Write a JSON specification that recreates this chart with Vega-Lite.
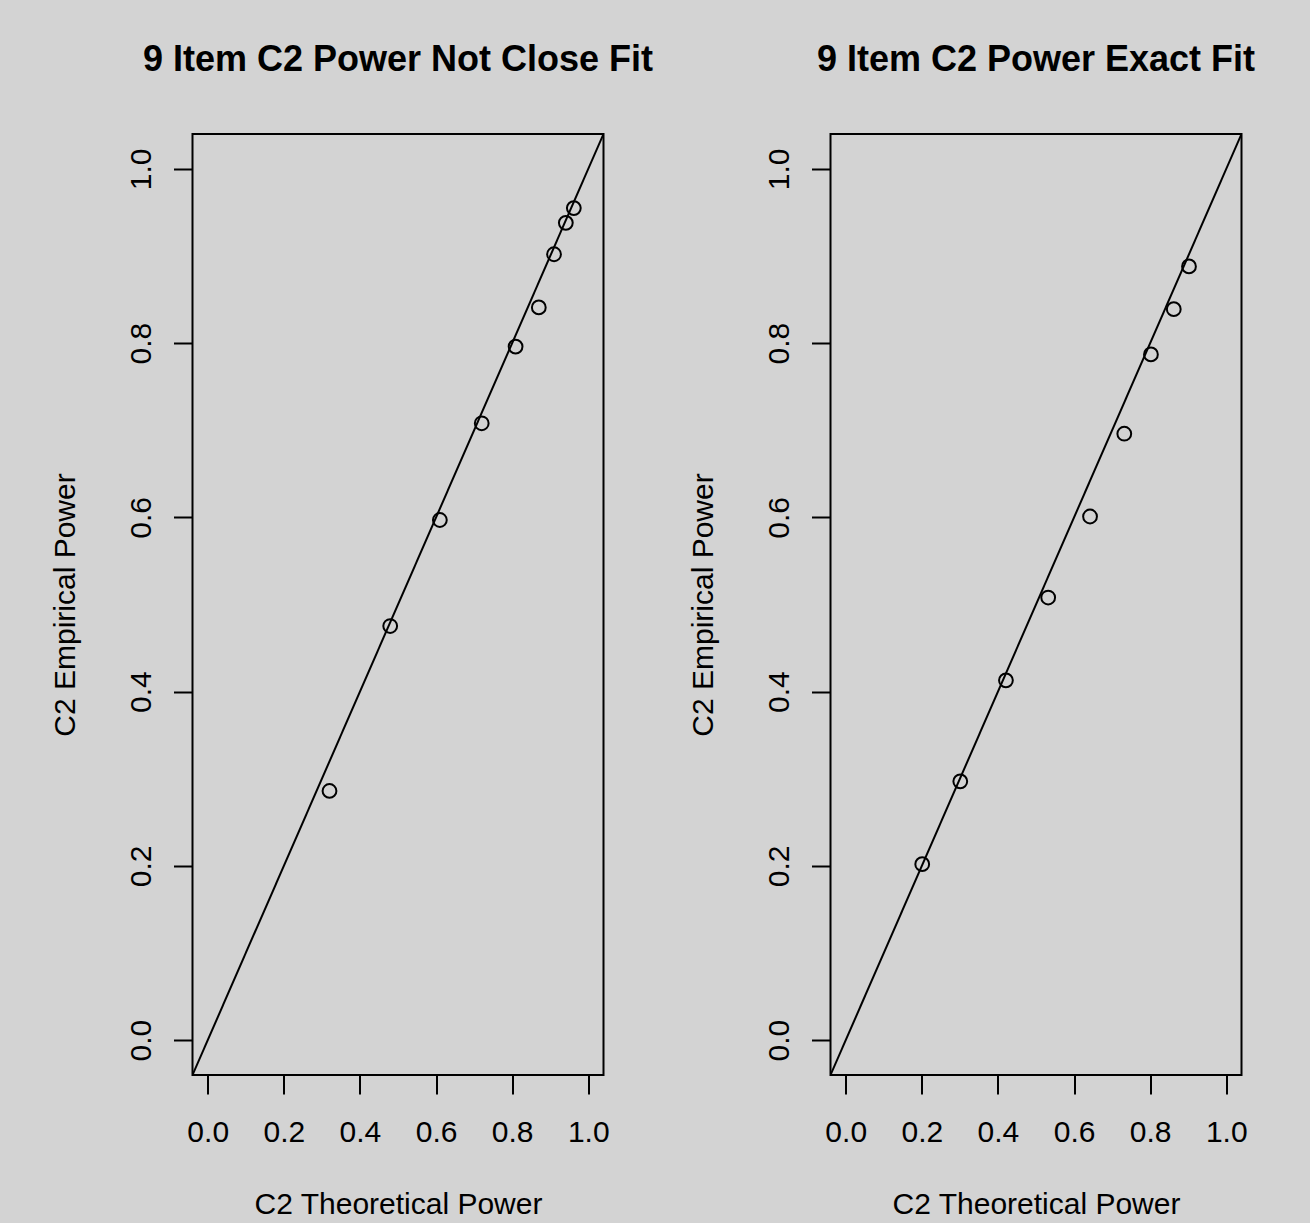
{
  "$schema": "https://vega.github.io/schema/vega-lite/v6.json",
  "background": "#D3D3D3",
  "padding": {"left": 48.5, "top": 41, "right": 60, "bottom": 10},
  "bounds": "flush",
  "spacing": 227,
  "datasets": {
    "pts": [
      {"panel": "ncf", "theoretical": 0.320, "empirical": 0.286},
      {"panel": "ncf", "theoretical": 0.4795, "empirical": 0.4753},
      {"panel": "ncf", "theoretical": 0.610, "empirical": 0.597},
      {"panel": "ncf", "theoretical": 0.720, "empirical": 0.708},
      {"panel": "ncf", "theoretical": 0.809, "empirical": 0.796},
      {"panel": "ncf", "theoretical": 0.870, "empirical": 0.841},
      {"panel": "ncf", "theoretical": 0.910, "empirical": 0.902},
      {"panel": "ncf", "theoretical": 0.941, "empirical": 0.938},
      {"panel": "ncf", "theoretical": 0.962, "empirical": 0.955},
      {"panel": "ef", "theoretical": 0.201, "empirical": 0.202},
      {"panel": "ef", "theoretical": 0.301, "empirical": 0.297},
      {"panel": "ef", "theoretical": 0.421, "empirical": 0.413},
      {"panel": "ef", "theoretical": 0.532, "empirical": 0.508},
      {"panel": "ef", "theoretical": 0.642, "empirical": 0.601},
      {"panel": "ef", "theoretical": 0.732, "empirical": 0.696},
      {"panel": "ef", "theoretical": 0.802, "empirical": 0.787},
      {"panel": "ef", "theoretical": 0.862, "empirical": 0.839},
      {"panel": "ef", "theoretical": 0.902, "empirical": 0.888}
    ],
    "diag": [
      {"theoretical": -0.04, "empirical": -0.04},
      {"theoretical": 1.04, "empirical": 1.04}
    ]
  },
  "config": {
    "font": "Liberation Sans",
    "view": {"stroke": "#000000", "strokeWidth": 2, "fill": null},
    "title": {"fontSize": 36, "fontWeight": "bold", "color": "#000000", "font": "Liberation Sans", "baseline": "alphabetic", "offset": 55, "anchor": "middle"},
    "axis": {
      "domain": false,
      "grid": false,
      "ticks": true,
      "tickSize": 19,
      "tickWidth": 2,
      "tickColor": "#000000",
      "labelFontSize": 30,
      "labelColor": "#000000",
      "labelFont": "Liberation Sans",
      "labelFlush": false,
      "labelOverlap": false,
      "labelBound": false,
      "titleFontSize": 30,
      "titleFontWeight": "normal",
      "titleColor": "#000000",
      "titleFont": "Liberation Sans",
      "titleBaseline": "alphabetic"
    },
    "axisX": {"labelBaseline": "alphabetic", "labelPadding": 47, "titleX": 205.5, "titleY": 138, "titleAngle": 0},
    "axisY": {"labelAngle": -90, "labelAlign": "center", "labelBaseline": "alphabetic", "labelPadding": 23.5, "titleAngle": -90, "titleX": -118.5, "titleY": 470.5}
  },
  "hconcat": [
    {
      "title": "9 Item C2 Power Not Close Fit",
      "width": 411,
      "height": 941,
      "layer": [
        {
          "data": {"name": "diag"},
          "mark": {"type": "line", "color": "#000000", "strokeWidth": 2, "clip": true},
          "encoding": {
            "x": {"field": "theoretical", "type": "quantitative", "scale": {"domain": [-0.04, 1.04], "nice": false, "zero": false}, "axis": {"values": [0, 0.2, 0.4, 0.6, 0.8, 1.0], "format": ".1f", "title": "C2 Theoretical Power"}},
            "y": {"field": "empirical", "type": "quantitative", "scale": {"domain": [-0.04, 1.04], "nice": false, "zero": false}, "axis": {"values": [0, 0.2, 0.4, 0.6, 0.8, 1.0], "format": ".1f", "title": "C2 Empirical Power"}}
          }
        },
        {
          "data": {"name": "pts"},
          "transform": [{"filter": "datum.panel === 'ncf'"}],
          "mark": {"type": "point", "shape": "circle", "filled": false, "color": "#000000", "size": 190, "strokeWidth": 2, "opacity": 1},
          "encoding": {
            "x": {"field": "theoretical", "type": "quantitative"},
            "y": {"field": "empirical", "type": "quantitative"}
          }
        }
      ]
    },
    {
      "title": "9 Item C2 Power Exact Fit",
      "width": 411,
      "height": 941,
      "layer": [
        {
          "data": {"name": "diag"},
          "mark": {"type": "line", "color": "#000000", "strokeWidth": 2, "clip": true},
          "encoding": {
            "x": {"field": "theoretical", "type": "quantitative", "scale": {"domain": [-0.04, 1.04], "nice": false, "zero": false}, "axis": {"values": [0, 0.2, 0.4, 0.6, 0.8, 1.0], "format": ".1f", "title": "C2 Theoretical Power"}},
            "y": {"field": "empirical", "type": "quantitative", "scale": {"domain": [-0.04, 1.04], "nice": false, "zero": false}, "axis": {"values": [0, 0.2, 0.4, 0.6, 0.8, 1.0], "format": ".1f", "title": "C2 Empirical Power"}}
          }
        },
        {
          "data": {"name": "pts"},
          "transform": [{"filter": "datum.panel === 'ef'"}],
          "mark": {"type": "point", "shape": "circle", "filled": false, "color": "#000000", "size": 190, "strokeWidth": 2, "opacity": 1},
          "encoding": {
            "x": {"field": "theoretical", "type": "quantitative"},
            "y": {"field": "empirical", "type": "quantitative"}
          }
        }
      ]
    }
  ]
}
